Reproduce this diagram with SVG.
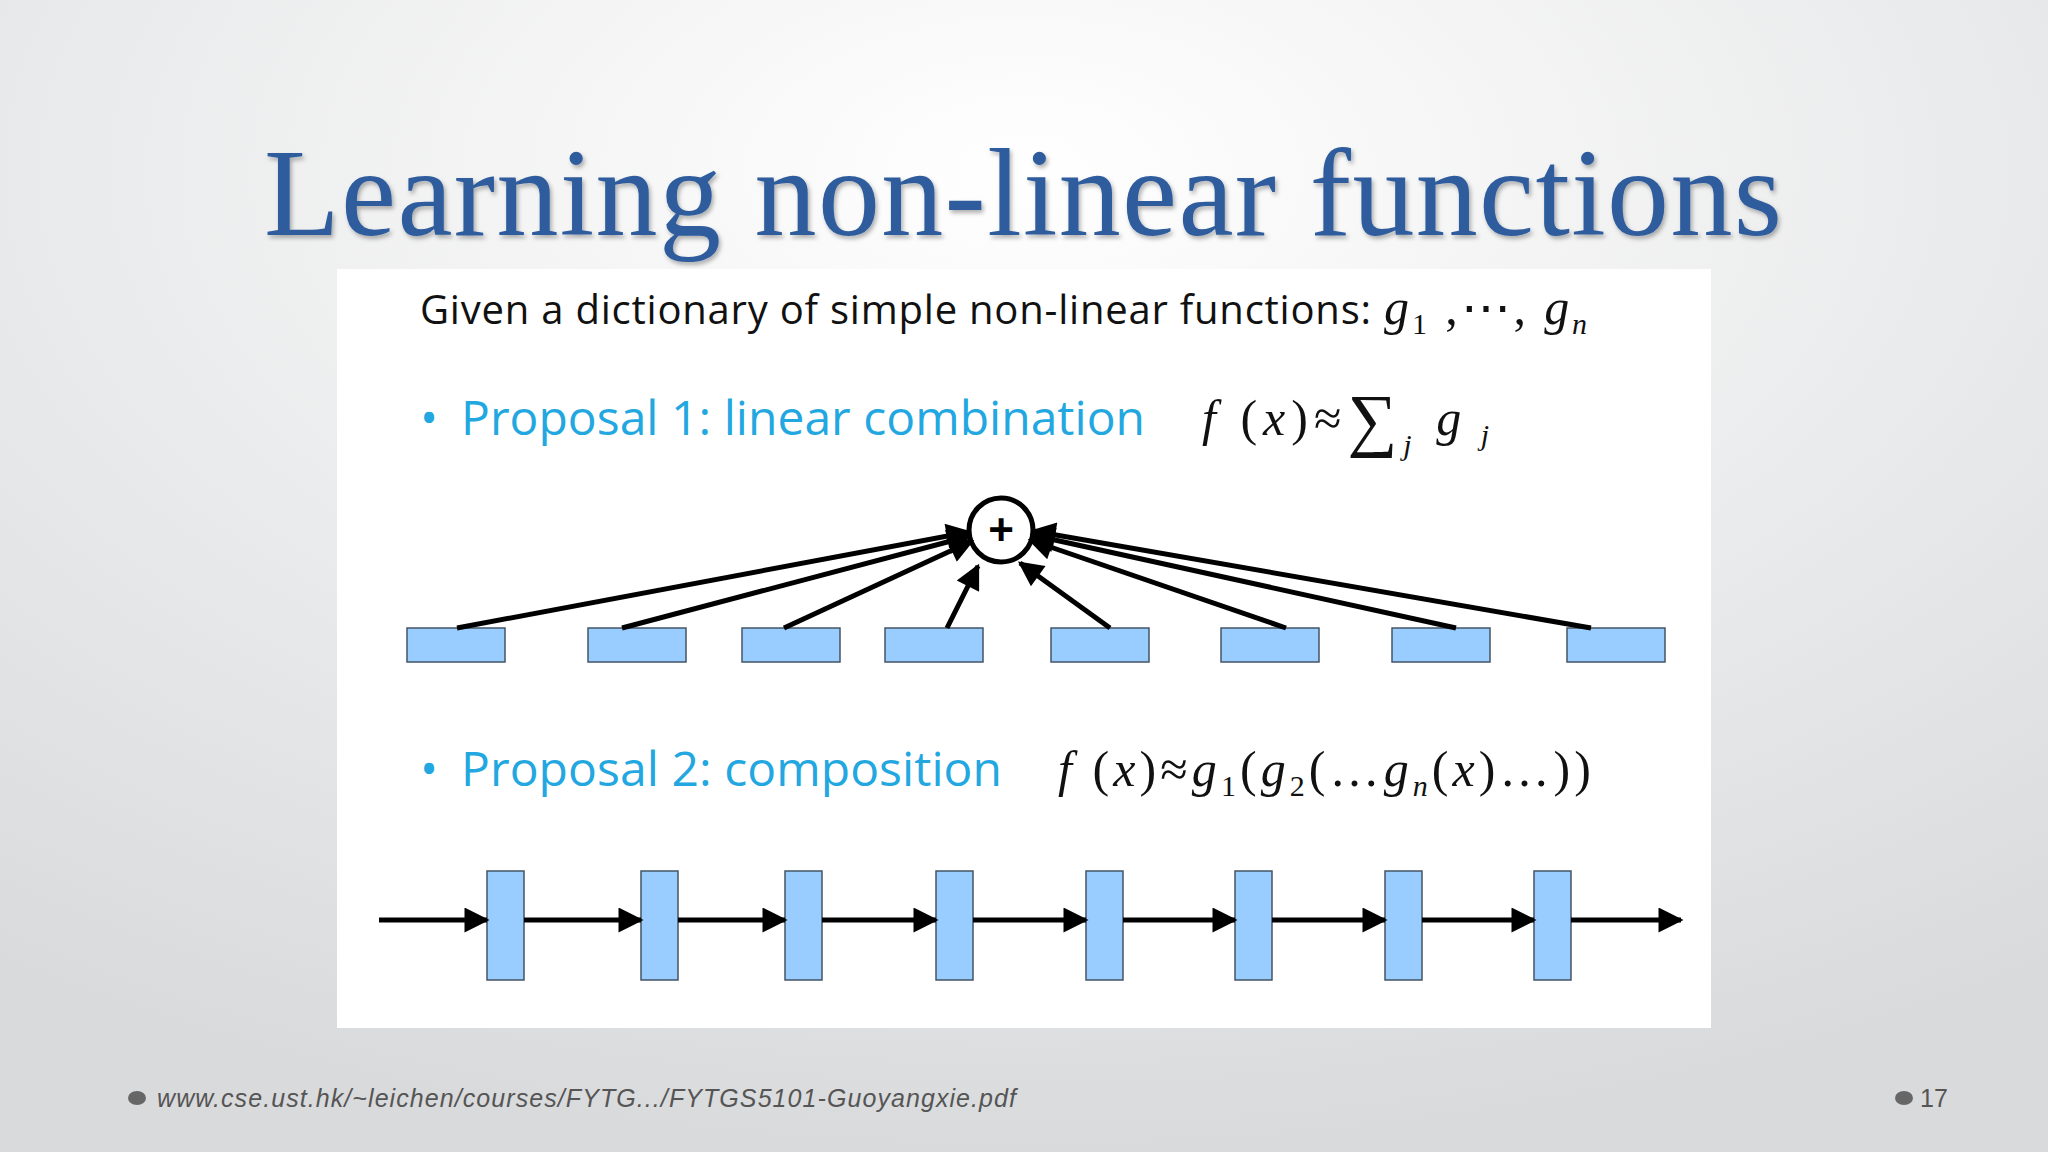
<svg xmlns="http://www.w3.org/2000/svg" width="2048" height="1152" viewBox="0 0 2048 1152">
<defs>
<radialGradient id="bg" cx="50%" cy="15%" r="85%">
<stop offset="0" stop-color="#ffffff"/><stop offset="1" stop-color="#d9dadc"/>
</radialGradient>
<marker id="ah" viewBox="0 0 10 10" refX="9" refY="5" markerWidth="8" markerHeight="5" orient="auto" markerUnits="strokeWidth">
<path d="M0,0 L10,5 L0,10 z" fill="#000"/>
</marker>
<filter id="sh"><feDropShadow dx="2" dy="3" stdDeviation="2" flood-color="#000" flood-opacity="0.3"/></filter>
</defs>
<style>
.box{fill:#99CCFF;stroke:#445566;stroke-width:1.5}
.cn{stroke:#000;stroke-width:5;fill:none;marker-end:url(#ah)}
.txt{font-family:"Open Sans","Liberation Sans",sans-serif;font-size:40px;fill:#111}
.bl{font-family:"Open Sans","Liberation Sans",sans-serif;font-size:48px;fill:#22A7E0}
.m{font-family:"Liberation Serif",serif;font-style:italic;font-size:50px;fill:#111}
.r{font-style:normal}
.ft{font-family:"Liberation Sans",sans-serif;font-style:italic;font-size:25px;fill:#555}
</style>
<rect width="2048" height="1152" fill="url(#bg)"/>
<text x="1023" y="235" text-anchor="middle" font-family="Liberation Serif,serif" font-size="124" fill="#2F5C9C" filter="url(#sh)" textLength="1518">Learning non-linear functions</text>
<rect x="337" y="269" width="1374" height="759" fill="#ffffff"/>
<g id="intro"><text class="txt" x="420" y="324" textLength="951">Given a dictionary of simple non-linear functions:</text>
<text class="m" x="1384" y="324" font-size="48" textLength="203">g<tspan class="r" font-size="30" dy="10">1</tspan><tspan dy="-10" class="r"> ,⋯, </tspan>g<tspan font-size="30" dy="10">n</tspan></text></g>
<g id="p1"><text class="bl" x="420" y="435">•</text><text class="bl" x="461" y="435" textLength="684">Proposal 1: linear combination</text>
<text class="m" x="1202" y="435" textLength="287">f<tspan class="r"> (</tspan>x<tspan class="r">)≈</tspan><tspan class="r" font-size="70" dy="8">∑</tspan><tspan font-size="30" dy="12">j</tspan> <tspan dy="-20">g</tspan><tspan font-size="30" dy="10"> j</tspan></text></g>
<g id="sum"><circle cx="1001" cy="530" r="32" fill="#fff" stroke="#000" stroke-width="5"/>
<text x="1001" y="545" text-anchor="middle" font-family="Liberation Sans,sans-serif" font-size="44" font-weight="bold">+</text></g>
<g id="boxes1">
<rect class="box" x="407" y="628" width="98" height="34"/><rect class="box" x="588" y="628" width="98" height="34"/>
<rect class="box" x="742" y="628" width="98" height="34"/><rect class="box" x="885" y="628" width="98" height="34"/>
<rect class="box" x="1051" y="628" width="98" height="34"/><rect class="box" x="1221" y="628" width="98" height="34"/>
<rect class="box" x="1392" y="628" width="98" height="34"/><rect class="box" x="1567" y="628" width="98" height="34"/>
</g>
<g id="connectors1">
<line class="cn" x1="457" y1="628" x2="969" y2="532"/>
<line class="cn" x1="622" y1="628" x2="970" y2="536"/>
<line class="cn" x1="784" y1="628" x2="972" y2="541"/>
<line class="cn" x1="947" y1="628" x2="978" y2="566"/>
<line class="cn" x1="1110" y1="628" x2="1020" y2="563"/>
<line class="cn" x1="1286" y1="628" x2="1030" y2="540"/>
<line class="cn" x1="1456" y1="628" x2="1032" y2="535"/>
<line class="cn" x1="1591" y1="628" x2="1033" y2="531"/>
</g>
<g id="p2"><text class="bl" x="420" y="786">•</text><text class="bl" x="461" y="786" textLength="541">Proposal 2: composition</text>
<text class="m" x="1058" y="786" textLength="533">f<tspan class="r"> (</tspan>x<tspan class="r">)≈</tspan>g<tspan class="r" font-size="30" dy="10">1</tspan><tspan class="r" dy="-10">(</tspan>g<tspan class="r" font-size="30" dy="10">2</tspan><tspan class="r" dy="-10">(…</tspan>g<tspan font-size="30" dy="10">n</tspan><tspan class="r" dy="-10">(</tspan>x<tspan class="r">)…))</tspan></text></g>
<g id="boxes2">
<rect class="box" x="487" y="871" width="37" height="109"/><rect class="box" x="641" y="871" width="37" height="109"/>
<rect class="box" x="785" y="871" width="37" height="109"/><rect class="box" x="936" y="871" width="37" height="109"/>
<rect class="box" x="1086" y="871" width="37" height="109"/><rect class="box" x="1235" y="871" width="37" height="109"/>
<rect class="box" x="1385" y="871" width="37" height="109"/><rect class="box" x="1534" y="871" width="37" height="109"/>
</g>
<g id="connectors2">
<line class="cn" x1="379" y1="920" x2="487" y2="920"/>
<line class="cn" x1="524" y1="920" x2="641" y2="920"/>
<line class="cn" x1="678" y1="920" x2="785" y2="920"/>
<line class="cn" x1="822" y1="920" x2="936" y2="920"/>
<line class="cn" x1="973" y1="920" x2="1086" y2="920"/>
<line class="cn" x1="1123" y1="920" x2="1235" y2="920"/>
<line class="cn" x1="1272" y1="920" x2="1385" y2="920"/>
<line class="cn" x1="1422" y1="920" x2="1534" y2="920"/>
<line class="cn" x1="1571" y1="920" x2="1681" y2="920"/>
</g>
<ellipse cx="137" cy="1098" rx="9" ry="7" fill="#666"/>
<text class="ft" x="157" y="1107" textLength="859">www.cse.ust.hk/~leichen/courses/FYTG.../FYTGS5101-Guoyangxie.pdf</text>
<ellipse cx="1904" cy="1098" rx="9" ry="7" fill="#666"/>
<text x="1920" y="1107" font-family="Liberation Sans,sans-serif" font-size="25" fill="#555">17</text>
</svg>
